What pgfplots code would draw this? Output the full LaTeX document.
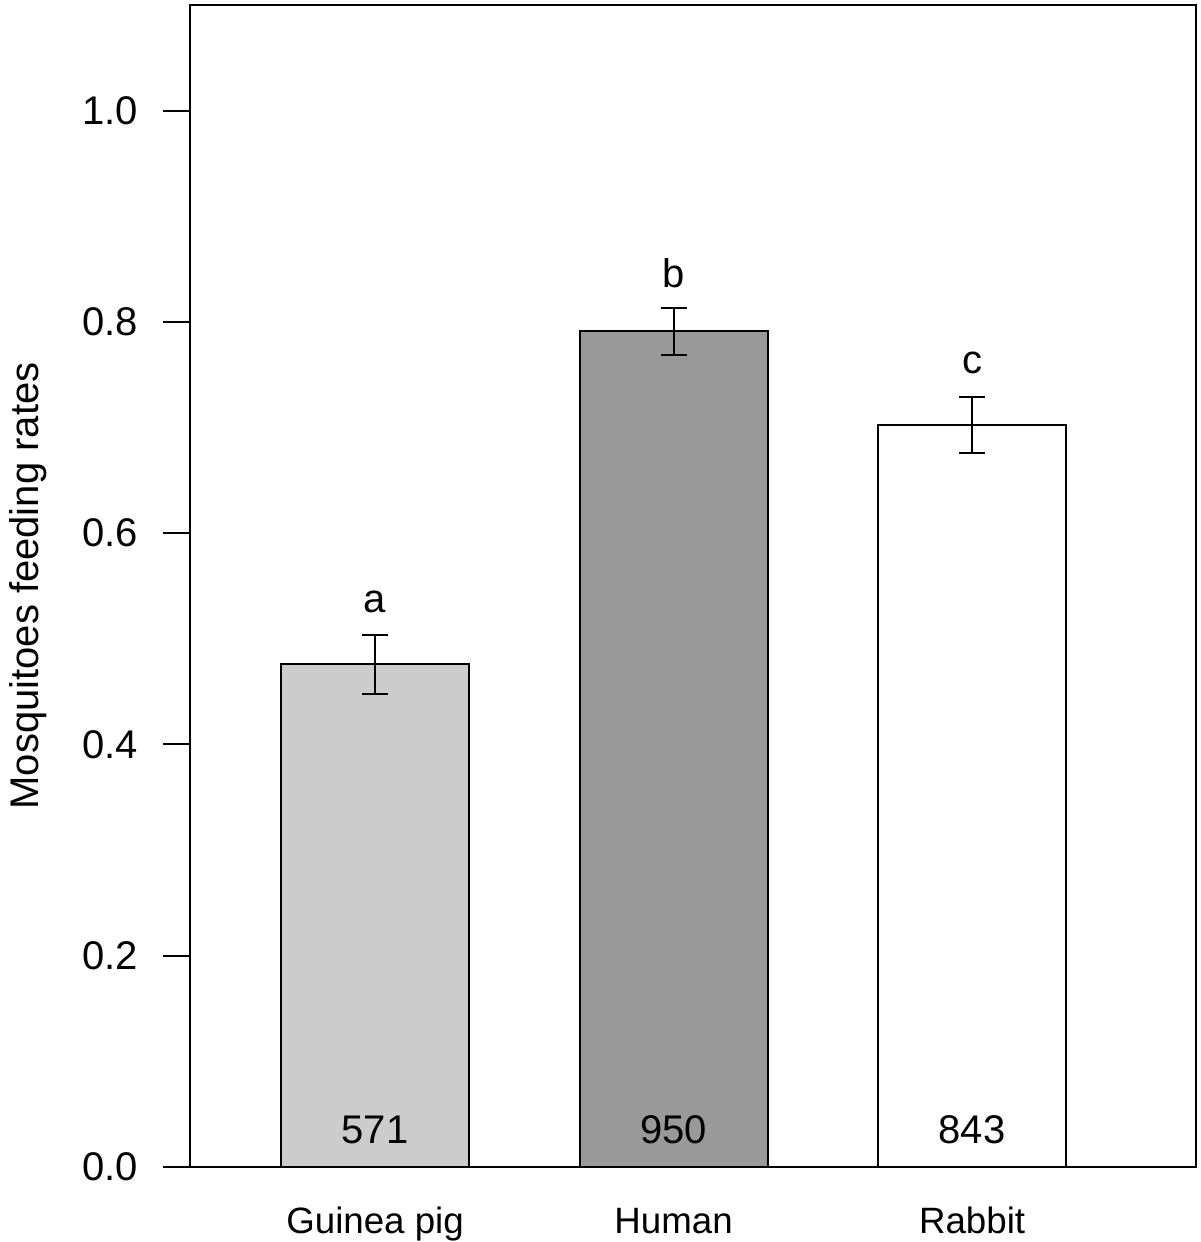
\documentclass[border=0pt]{standalone}
\usepackage{pgfplots}
\pgfplotsset{compat=1.18}
\usepackage{fontspec}
\setmainfont{Liberation Sans}

\definecolor{gp}{HTML}{CCCCCC}
\definecolor{hu}{HTML}{999999}

\begin{document}
\begin{tikzpicture}
\useasboundingbox (-57pt,-22.5pt) rectangle (303pt,350.1pt);
\begin{axis}[
  at={(0pt,0pt)}, anchor=south west,
  scale only axis,
  width=301.8pt, height=348.6pt,
  xmin=-0.62, xmax=2.75,
  ymin=0, ymax=1.1,
  ybar, bar shift=0pt, bar width=0.63,
  axis line style={line width=0.8pt},
  xtick={0,1,2},
  xticklabels={Guinea pig, Human, Rabbit},
  x tick style={draw=none},
  xticklabel style={font=\fontsize{11}{13}\selectfont, anchor=base, yshift=-11.7pt},
  ytick={0,0.2,...,1.0},
  ytick pos=left,
  tick align=outside,
  major tick length=8.1pt,
  y tick style={line width=0.6pt, black},
  yticklabel style={font=\fontsize{12}{14}\selectfont, xshift=-3.9pt},
  /pgf/number format/assume math mode=true,
  yticklabel={\pgfmathprintnumber[fixed, fixed zerofill, precision=1]{\tick}},
  ylabel={Mosquitoes feeding rates},
  ylabel style={font=\fontsize{12}{14}\selectfont, at={(axis description cs:-0.151,0.5)}, anchor=base},
  error bars/y dir=both,
  error bars/y explicit,
  error bars/error bar style={line width=0.6pt, black},
  error bars/error mark options={rotate=90, line width=0.6pt, black, mark size=3.9pt},
  every axis plot/.append style={draw=black, line width=0.6pt},
]
\addplot[fill=gp] coordinates {(0,0.476) +- (0,0.028)};
\addplot[fill=hu] coordinates {(1,0.791) +- (0,0.0225)};
\addplot[fill=white] coordinates {(2,0.702) +- (0,0.0265)};

\node[anchor=base, font=\fontsize{12}{14}\selectfont] at (axis cs:0,0.525) {a};
\node[anchor=base, font=\fontsize{12}{14}\selectfont] at (axis cs:1,0.833) {b};
\node[anchor=base, font=\fontsize{12}{14}\selectfont] at (axis cs:2,0.751) {c};
\node[anchor=base, font=\fontsize{12}{14}\selectfont] at (axis cs:0,0.0227) {571};
\node[anchor=base, font=\fontsize{12}{14}\selectfont] at (axis cs:1,0.0227) {950};
\node[anchor=base, font=\fontsize{12}{14}\selectfont] at (axis cs:2,0.0227) {843};
\end{axis}
\end{tikzpicture}
\end{document}
